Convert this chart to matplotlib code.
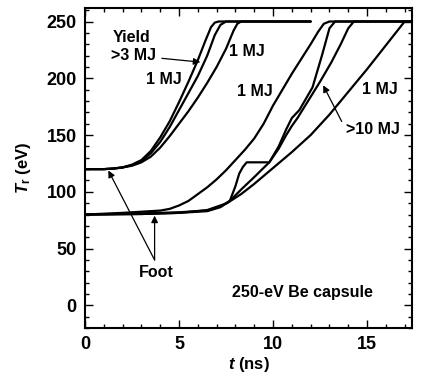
import numpy as np
import matplotlib
matplotlib.use("Agg")
import matplotlib.pyplot as plt

# Radiation temperature drive profiles
# foot at 120 eV
t_1a = [0, 1, 1.5, 2, 2.5, 3, 3.5, 4, 4.5, 5, 5.5, 6, 6.4, 6.7, 6.9, 7.1, 12.0]
T_1a = [120, 120, 120.5, 121.5, 124, 128, 136, 148, 162, 179, 197, 216, 233, 245, 249, 250, 250]
t_1b = [0, 1, 1.5, 2, 2.5, 3, 3.5, 4, 4.5, 5, 5.5, 6, 6.5, 6.9, 7.2, 7.5, 12.0]
T_1b = [120, 120, 120.5, 121.5, 123.5, 127, 134, 144, 157, 172, 187, 202, 220, 238, 247, 250, 250]
t_1c = [0, 1, 1.5, 2, 2.5, 3, 3.5, 4, 4.5, 5, 5.5, 6, 6.5, 7, 7.5, 7.9, 8.1, 8.3, 12.0]
T_1c = [120, 120, 120.5, 121.5, 123, 126, 131, 139, 149, 160, 171, 183, 196, 210, 226, 242, 248, 250, 250]

# foot at 80 eV
t_2a = [0, 2, 4, 4.5, 5, 5.5, 6, 6.5, 7, 7.5, 8, 8.5, 9, 9.5, 10, 10.5, 11, 11.5, 12, 12.4, 12.7, 13.0, 17.4]
T_2a = [80, 81.5, 83.5, 85, 88, 92, 98, 104, 111, 119, 128, 137, 147, 160, 176, 190, 204, 217, 230, 241, 248, 250, 250]
t_2b = [0, 3, 5, 6.5, 7.2, 7.7, 8.0, 8.2, 8.4, 8.6, 9.8, 10.3, 10.7, 11.0, 11.4, 12.1, 12.6, 13.0, 13.3, 17.4]
T_2b = [80, 81, 82, 83.5, 87, 92, 105, 116, 122, 126, 126, 140, 155, 165, 172, 192, 220, 244, 250, 250]
t_2c = [0, 3, 5, 6.5, 7.2, 7.7, 8.3, 9.0, 9.8, 10.3, 10.7, 11.0, 11.3, 11.9, 12.5, 13.1, 13.6, 14.0, 14.3, 17.4]
T_2c = [80, 80.5, 81.5, 83, 86.5, 92, 102, 113, 126, 138, 150, 158, 165, 181, 197, 214, 230, 244, 250, 250]
t_2d = [0, 3, 5, 6.5, 7.55, 8.3, 9, 10, 11, 12, 13, 14, 15, 16, 17.0, 17.4]
T_2d = [80, 80.5, 81.5, 84, 90, 98, 107, 121, 135, 150, 168, 188, 208, 229, 250, 250]

curves = [(t_1a, T_1a), (t_1b, T_1b), (t_1c, T_1c),
          (t_2a, T_2a), (t_2b, T_2b), (t_2c, T_2c), (t_2d, T_2d)]

plt.rcParams['font.family'] = ['Liberation Sans', 'DejaVu Sans']
plt.rcParams['font.weight'] = 'bold'
plt.rcParams['mathtext.fontset'] = 'custom'
plt.rcParams['mathtext.it'] = 'Liberation Sans:bold:italic'
plt.rcParams['mathtext.rm'] = 'Liberation Sans:bold'

fig = plt.figure(figsize=(4.21, 3.75), dpi=100)
ax = fig.add_axes([0.202, 0.125, 0.777, 0.854])

for t, T in curves:
    ax.plot(t, T, color='black', lw=1.6, solid_joinstyle='round', solid_capstyle='round')

ax.set_xlim(0, 17.4)
ax.set_ylim(-20, 262)
ax.set_xticks([0, 5, 10, 15])
ax.set_yticks([0, 50, 100, 150, 200, 250])
ax.set_xticks(np.arange(0, 18, 1), minor=True)
ax.set_yticks(np.arange(-20, 262, 10), minor=True)
ax.tick_params(which='both', direction='in', top=True, right=True, width=1.0)
ax.tick_params(which='major', length=6, labelsize=13, pad=6)
ax.tick_params(which='minor', length=3)
for lbl in ax.get_xticklabels() + ax.get_yticklabels():
    lbl.set_fontweight('bold')
for sp in ax.spines.values():
    sp.set_linewidth(1.5)

ax.set_xlabel(r'$t$ (ns)', fontsize=12, fontweight='bold', labelpad=1)
ax.set_ylabel(r'$T_\mathrm{r}$ (eV)', fontsize=12, fontweight='bold', labelpad=10)

fs = 11.5
arrow = dict(arrowstyle='-|>', color='black', lw=0.9, mutation_scale=10)
ax.text(1.45, 236, 'Yield', fontsize=fs, fontweight='bold', ha='left', va='center')
ax.annotate('>3 MJ', xy=(6.28, 214), xytext=(1.4, 220), fontsize=fs, fontweight='bold',
            ha='left', va='center', arrowprops=arrow)
ax.text(4.2, 199, '1 MJ', fontsize=fs, fontweight='bold', ha='center', va='center')
ax.text(8.6, 224, '1 MJ', fontsize=fs, fontweight='bold', ha='center', va='center')
ax.text(9.05, 188, '1 MJ', fontsize=fs, fontweight='bold', ha='center', va='center')
ax.text(15.7, 190, '1 MJ', fontsize=fs, fontweight='bold', ha='center', va='center')
ax.annotate('>10 MJ', xy=(12.6, 196), xytext=(15.3, 155), fontsize=fs, fontweight='bold',
            ha='center', va='center',
            arrowprops=dict(arrow, shrinkA=2, relpos=(0.0, 0.5)))
ax.text(3.8, 29, 'Foot', fontsize=fs, fontweight='bold', ha='center', va='center')
ax.annotate('', xy=(1.17, 121), xytext=(3.7, 40), arrowprops=dict(arrow, shrinkA=0))
ax.annotate('', xy=(3.7, 81.5), xytext=(3.7, 40), arrowprops=dict(arrow, shrinkA=0))
ax.text(11.55, 11.5, '250-eV Be capsule', fontsize=fs, fontweight='bold',
        ha='center', va='center')

fig.savefig('out.png', dpi=100)
